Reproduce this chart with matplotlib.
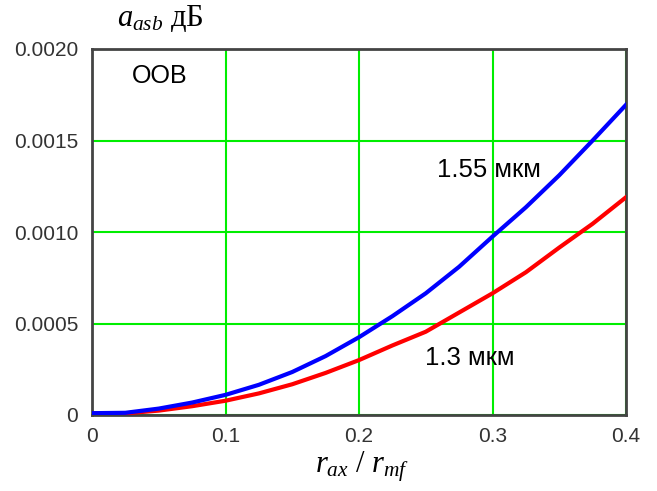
import matplotlib
matplotlib.use("Agg")
import matplotlib.pyplot as plt

plt.rcParams['mathtext.fontset'] = 'custom'
plt.rcParams['mathtext.it'] = 'Liberation Serif:italic'
plt.rcParams['mathtext.rm'] = 'Liberation Serif'
plt.rcParams['font.family'] = ['Liberation Sans', 'DejaVu Sans']

x = [0.0, 0.025, 0.05, 0.075, 0.1, 0.125, 0.15, 0.175, 0.2, 0.225, 0.25,
     0.275, 0.3, 0.325, 0.35, 0.375, 0.4]
blue_155 = [0.000010, 0.000012, 0.000035, 0.000068, 0.000110, 0.000165,
            0.000235, 0.000322, 0.000425, 0.000540, 0.000665, 0.000810,
            0.000975, 0.001135, 0.001310, 0.001500, 0.001695]
red_13 = [0.000008, 0.000009, 0.000024, 0.000048, 0.000078, 0.000118,
          0.000168, 0.000230, 0.000300, 0.000380, 0.000455, 0.000560,
          0.000665, 0.000780, 0.000915, 0.001045, 0.001190]

xticks = [0, 0.1, 0.2, 0.3, 0.4]
xticklabels = ["0", "0.1", "0.2", "0.3", "0.4"]
yticks = [0, 0.0005, 0.0010, 0.0015, 0.0020]
yticklabels = ["0", "0.0005", "0.0010", "0.0015", "0.0020"]

fig = plt.figure(figsize=(6.57, 4.91), dpi=100)
ax = fig.add_axes([92/657, 1 - 415/491, (626-92)/657, (415-49)/491])

ax.set_xlim(0, 0.4)
ax.set_ylim(0, 0.002)
ax.set_xticks(xticks)
ax.set_xticklabels(xticklabels)
ax.set_yticks(yticks)
ax.set_yticklabels(yticklabels)
ax.tick_params(axis='both', length=0, labelsize=15, labelcolor='#333333')
ax.tick_params(axis='y', pad=10)
ax.tick_params(axis='x', pad=9)
ax.grid(True, color='#00ee00', linewidth=1.5)
ax.set_axisbelow(True)
for s in ax.spines.values():
    s.set_color('#444444')
    s.set_linewidth(2)

ax.plot(x, red_13, color='#ff0000', linewidth=3, zorder=3)
ax.plot(x, blue_155, color='#0000ff', linewidth=3, zorder=3)

ax.text(0.0505, 0.00185, "OOB", fontsize=18, ha='center', va='center')
ax.text(0.2974, 0.00134, "1.55 мкм", fontsize=18.5, ha='center', va='center')
ax.text(0.2831, 0.00031, "1.3 мкм", fontsize=18.5, ha='center', va='center')

fig.text(160/657, 1 - 19/491, r"$a_{asb}$ дБ", family='Liberation Serif',
         fontsize=22, ha='center', va='center')
fig.text(362/657, 1 - 467/491, r"$r_{ax}$ / $r_{mf}$", family='Liberation Serif',
         fontsize=22, ha='center', va='center')

fig.savefig("out.png", dpi=100)
